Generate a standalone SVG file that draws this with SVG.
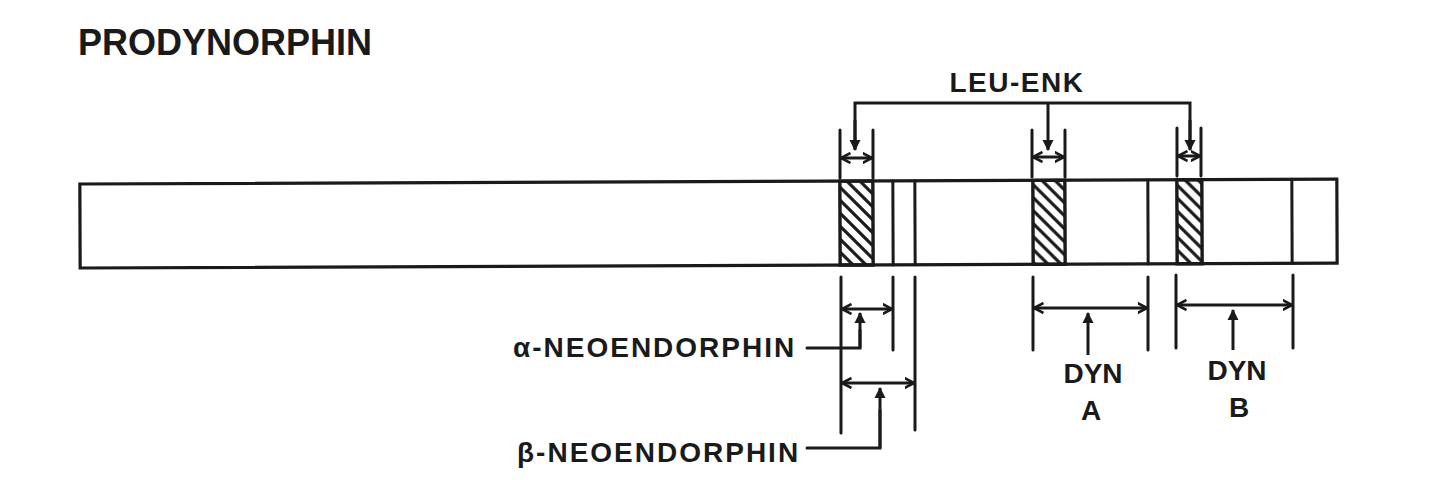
<svg xmlns="http://www.w3.org/2000/svg" width="1440" height="480" viewBox="0 0 1440 480">
<style>
.t{font-family:"Liberation Sans",Arial,sans-serif;font-weight:bold;fill:#1a1a1a}
.ln{stroke:#1a1a1a;stroke-width:3;fill:none;stroke-linecap:round}
.bar{stroke:#1a1a1a;stroke-width:3.2;fill:#fff}
.arr{stroke:#1a1a1a;stroke-width:3;fill:none;marker-end:url(#ah)}
.dbl{stroke:#1a1a1a;stroke-width:3;fill:none;marker-start:url(#vs);marker-end:url(#ve)}
</style>
<defs>
<marker id="ah" viewBox="0 0 10 10" refX="9" refY="5" markerWidth="11" markerHeight="12" markerUnits="userSpaceOnUse" orient="auto">
<path d="M0,0 L10,5 L0,10 Z" fill="#1a1a1a"/>
</marker>
<marker id="ve" viewBox="0 0 10 10" refX="9.5" refY="5" markerWidth="10" markerHeight="12" markerUnits="userSpaceOnUse" orient="auto">
<path d="M0,0 L9.5,5 L0,10" fill="none" stroke="#1a1a1a" stroke-width="2.6"/>
</marker>
<marker id="vs" viewBox="0 0 10 10" refX="0.5" refY="5" markerWidth="10" markerHeight="12" markerUnits="userSpaceOnUse" orient="auto">
<path d="M10,0 L0.5,5 L10,10" fill="none" stroke="#1a1a1a" stroke-width="2.6"/>
</marker>
<pattern id="hatch" patternUnits="userSpaceOnUse" width="13" height="13">
<path d="M-3,-3 L16,16 M-3,10 L3,16 M10,-3 L16,3" stroke="#1a1a1a" stroke-width="3.2"/>
</pattern>
</defs>
<g id="title"><text class="t" x="78" y="55" font-size="36">PRODYNORPHIN</text></g>
<g id="prodynorphin-bar" transform="rotate(-0.22 80 226)">
<rect class="bar" x="80" y="184" width="1257" height="84"/>
<rect x="840" y="184" width="33" height="84" fill="url(#hatch)" stroke="#1a1a1a" stroke-width="3.4"/>
<rect x="1033" y="184" width="32" height="84" fill="url(#hatch)" stroke="#1a1a1a" stroke-width="3.4"/>
<rect x="1177" y="184" width="25" height="84" fill="url(#hatch)" stroke="#1a1a1a" stroke-width="3.4"/>
<line class="ln" x1="893" y1="184" x2="893" y2="268"/>
<line class="ln" x1="915" y1="184" x2="915" y2="268"/>
<line class="ln" x1="1148" y1="184" x2="1148" y2="268"/>
<line class="ln" x1="1292" y1="184" x2="1292" y2="268"/>
</g>
<g id="leu-enk"><text class="t" x="1017" y="92" font-size="28" letter-spacing="1.5" text-anchor="middle">LEU-ENK</text></g>
<g id="alpha-neoendorphin"><text class="t" x="513" y="357" font-size="28" letter-spacing="2">α-NEOENDORPHIN</text></g>
<g id="beta-neoendorphin"><text class="t" x="517" y="462" font-size="28" letter-spacing="2">β-NEOENDORPHIN</text></g>
<g id="dyn-a"><text class="t" x="1093" y="383" font-size="28" text-anchor="middle">DYN</text><text class="t" x="1091" y="420" font-size="28" text-anchor="middle">A</text></g>
<g id="dyn-b"><text class="t" x="1237" y="380" font-size="28" text-anchor="middle">DYN</text><text class="t" x="1239" y="417" font-size="28" text-anchor="middle">B</text></g>
<g id="connectors">
<polyline class="ln" points="855,148 855,103 1190,103 1190,148"/>
<line class="arr" x1="855" y1="120" x2="855" y2="150"/>
<line class="arr" x1="1048" y1="103" x2="1048" y2="150"/>
<line class="arr" x1="1190" y1="120" x2="1190" y2="150"/>
<line class="ln" x1="840" y1="130" x2="840" y2="178"/>
<line class="ln" x1="873" y1="130" x2="873" y2="178"/>
<line class="dbl" x1="841" y1="158" x2="872" y2="158"/>
<line class="ln" x1="1032" y1="130" x2="1032" y2="177"/>
<line class="ln" x1="1065" y1="130" x2="1065" y2="177"/>
<line class="dbl" x1="1033" y1="157" x2="1064" y2="157"/>
<line class="ln" x1="1177" y1="128" x2="1177" y2="176"/>
<line class="ln" x1="1201" y1="128" x2="1201" y2="176"/>
<line class="dbl" x1="1178" y1="156" x2="1200" y2="156"/>
<line class="ln" x1="841" y1="277" x2="841" y2="433"/>
<line class="ln" x1="893" y1="277" x2="893" y2="350"/>
<line class="ln" x1="915" y1="277" x2="915" y2="430"/>
<line class="dbl" x1="842" y1="309" x2="892" y2="309"/>
<line class="dbl" x1="842" y1="383" x2="914" y2="383"/>
<polyline class="ln" points="807,348 860,348 860,330"/>
<line class="arr" x1="860" y1="348" x2="860" y2="313"/>
<polyline class="ln" points="807,448 880,448 880,410"/>
<line class="arr" x1="880" y1="448" x2="880" y2="388"/>
<line class="ln" x1="1033" y1="277" x2="1033" y2="350"/>
<line class="ln" x1="1148" y1="277" x2="1148" y2="350"/>
<line class="dbl" x1="1034" y1="308" x2="1147" y2="308"/>
<line class="arr" x1="1088" y1="355" x2="1088" y2="313"/>
<line class="ln" x1="1176" y1="275" x2="1176" y2="348"/>
<line class="ln" x1="1293" y1="275" x2="1293" y2="348"/>
<line class="dbl" x1="1177" y1="305" x2="1292" y2="305"/>
<line class="arr" x1="1233" y1="350" x2="1233" y2="310"/>
</g>
</svg>
